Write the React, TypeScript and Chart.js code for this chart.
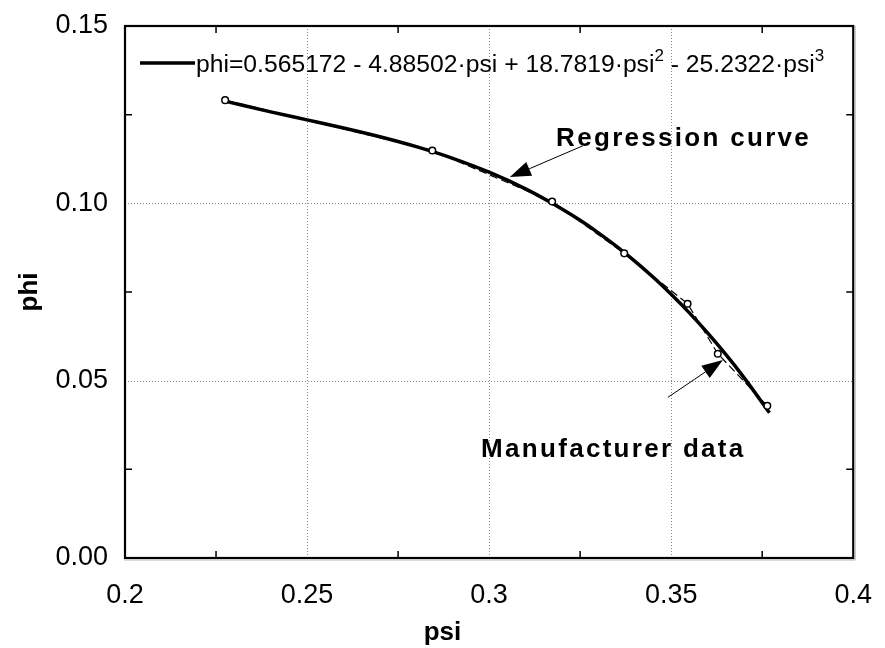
import React, { useEffect, useRef } from "react";
import { Chart, registerables } from "chart.js";
Chart.register(...registerables);

// Manufacturer data
const mfrPsi = [0.2275, 0.2844, 0.3173, 0.3371, 0.3545, 0.3628, 0.3764];
const mfrPhi = [0.1291, 0.1149, 0.1005, 0.0859, 0.0717, 0.0576, 0.0429];

// Regression curve samples
const regPsi = [0.228, 0.24, 0.25, 0.26, 0.27, 0.28, 0.29, 0.3, 0.31, 0.32, 0.325, 0.33, 0.335, 0.34, 0.345, 0.35, 0.355, 0.36, 0.365, 0.37, 0.377];
const regPhi = [0.12869, 0.12579, 0.12353, 0.12124, 0.11877, 0.11597, 0.11269, 0.10877, 0.10406, 0.09842, 0.09521, 0.09169, 0.08788, 0.08373, 0.07923, 0.07437, 0.06912, 0.06347, 0.05739, 0.05087, 0.04096];

// Axis ticks
const xTicks = [0.2, 0.25, 0.3, 0.35, 0.4];
const yTicks = [0, 0.05, 0.1, 0.15];
const xMinor = [0.225, 0.275, 0.325, 0.375];
const yMinor = [0.025, 0.075, 0.125];

// Texts
const legendParts = ["phi=0.565172 - 4.88502·psi + 18.7819·psi", "2", " - 25.2322·psi", "3"];
const xTitle = "psi";
const yTitle = "phi";
const regLabel = "Regression curve";
const mfrLabel = "Manufacturer data";

// Annotation anchors in data coordinates
const regArrowFrom = [0.3257, 0.1162];
const regArrowTo = [0.3057, 0.1074];
const regTextAt = [0.3184, 0.1162];
const mfrArrowFrom = [0.3491, 0.0453];
const mfrArrowTo = [0.3642, 0.0558];
const mfrTextAt = [0.2978, 0.0285];

const FONT = '"Liberation Sans", Arial, Helvetica, sans-serif';

function arrow(ctx: CanvasRenderingContext2D, x1: number, y1: number, x2: number, y2: number) {
  const ang = Math.atan2(y2 - y1, x2 - x1);
  const len = 21;
  const hw = 7.5;
  const bx = x2 - len * Math.cos(ang);
  const by = y2 - len * Math.sin(ang);
  ctx.save();
  ctx.strokeStyle = "#000";
  ctx.fillStyle = "#000";
  ctx.lineWidth = 1;
  ctx.beginPath();
  ctx.moveTo(x1, y1);
  ctx.lineTo(bx, by);
  ctx.stroke();
  ctx.beginPath();
  ctx.moveTo(x2, y2);
  ctx.lineTo(bx + hw * Math.sin(ang), by - hw * Math.cos(ang));
  ctx.lineTo(bx - hw * Math.sin(ang), by + hw * Math.cos(ang));
  ctx.closePath();
  ctx.fill();
  ctx.restore();
}

const decor = {
  id: "decor",
  beforeDatasetsDraw(chart: any) {
    const { ctx, chartArea: a, scales } = chart;
    const xs = scales.x, ys = scales.y;
    ctx.save();
    ctx.strokeStyle = "#8a8a8a";
    ctx.lineWidth = 1;
    ctx.setLineDash([1, 2]);
    xTicks.slice(1, -1).forEach((v) => {
      const px = Math.round(xs.getPixelForValue(v)) + 0.5;
      ctx.beginPath();
      ctx.moveTo(px, a.top);
      ctx.lineTo(px, a.bottom);
      ctx.stroke();
    });
    yTicks.slice(1, -1).forEach((v) => {
      const py = Math.round(ys.getPixelForValue(v)) + 0.5;
      ctx.beginPath();
      ctx.moveTo(a.left, py);
      ctx.lineTo(a.right, py);
      ctx.stroke();
    });
    ctx.restore();
  },
  afterDatasetsDraw(chart: any) {
    const { ctx, chartArea: a, scales, width } = chart;
    const xs = scales.x, ys = scales.y;
    ctx.save();
    // minor ticks
    ctx.strokeStyle = "#000";
    ctx.lineWidth = 1.5;
    const tl = 7;
    xMinor.forEach((v) => {
      const px = xs.getPixelForValue(v);
      ctx.beginPath();
      ctx.moveTo(px, a.bottom);
      ctx.lineTo(px, a.bottom - tl);
      ctx.moveTo(px, a.top);
      ctx.lineTo(px, a.top + tl);
      ctx.stroke();
    });
    yMinor.forEach((v) => {
      const py = ys.getPixelForValue(v);
      ctx.beginPath();
      ctx.moveTo(a.left, py);
      ctx.lineTo(a.left + tl, py);
      ctx.moveTo(a.right, py);
      ctx.lineTo(a.right - tl, py);
      ctx.stroke();
    });
    // border
    ctx.lineWidth = 2.2;
    ctx.strokeRect(a.left, a.top, a.right - a.left, a.bottom - a.top);
    // light shadow under bottom and right edges
    ctx.strokeStyle = "#b5b5b5";
    ctx.lineWidth = 1;
    ctx.beginPath();
    ctx.moveTo(a.left - 1, a.bottom + 2);
    ctx.lineTo(a.right + 2, a.bottom + 2);
    ctx.lineTo(a.right + 2, a.top);
    ctx.stroke();
    ctx.strokeStyle = "#000";

    // legend
    const lx = a.left + 15, ly = a.top + 37;
    ctx.lineWidth = 3.5;
    ctx.beginPath();
    ctx.moveTo(lx, ly);
    ctx.lineTo(lx + 55, ly);
    ctx.stroke();
    ctx.fillStyle = "#000";
    ctx.textBaseline = "alphabetic";
    ctx.textAlign = "left";
    let tx = lx + 56;
    const base = ly + 9;
    legendParts.forEach((s, i) => {
      const sup = i % 2 === 1;
      ctx.font = sup ? `17px ${FONT}` : `24.7px ${FONT}`;
      ctx.fillText(s, tx, sup ? base - 11 : base);
      tx += ctx.measureText(s).width;
    });

    // annotations
    const P = (p: number[]) => [xs.getPixelForValue(p[0]), ys.getPixelForValue(p[1])];
    ctx.font = `bold 26px ${FONT}`;
    (ctx as any).letterSpacing = "2.3px";
    const rt = P(regTextAt);
    ctx.fillText(regLabel, rt[0], rt[1]);
    const mt = P(mfrTextAt);
    ctx.fillText(mfrLabel, mt[0], mt[1]);
    (ctx as any).letterSpacing = "0px";
    const r1 = P(regArrowFrom), r2 = P(regArrowTo);
    arrow(ctx, r1[0], r1[1], r2[0], r2[1]);
    const m1 = P(mfrArrowFrom), m2 = P(mfrArrowTo);
    arrow(ctx, m1[0], m1[1], m2[0], m2[1]);

    // axis titles
    ctx.font = `bold 26px ${FONT}`;
    ctx.textAlign = "center";
    ctx.textBaseline = "middle";
    ctx.fillText(xTitle, width / 2, 633);
    ctx.save();
    ctx.translate(30, (a.top + a.bottom) / 2);
    ctx.rotate(-Math.PI / 2);
    ctx.fillText(yTitle, 0, 0);
    ctx.restore();
    ctx.restore();
  },
};

export default function App() {
  const ref = useRef<HTMLCanvasElement | null>(null);
  useEffect(() => {
    if (!ref.current) return;
    const chart = new Chart(ref.current, {
      type: "scatter",
      data: {
        datasets: [
          {
            label: "Manufacturer data",
            data: mfrPsi.map((x, i) => ({ x, y: mfrPhi[i] })),
            showLine: true,
            borderColor: "#000",
            borderWidth: 1.2,
            borderDash: [8, 4],
            pointRadius: 3.3,
            pointBackgroundColor: "#fff",
            pointBorderColor: "#000",
            pointBorderWidth: 1.5,
            tension: 0,
          },
          {
            label: "Regression",
            data: regPsi.map((x, i) => ({ x, y: regPhi[i] })),
            showLine: true,
            borderColor: "#000",
            borderWidth: 3.5,
            pointRadius: 0,
            cubicInterpolationMode: "monotone",
          },
        ],
      },
      options: {
        responsive: false,
        animation: false,
        devicePixelRatio: 1,
        layout: { padding: { left: 0, top: 26, right: 20, bottom: 0 } },
        plugins: { legend: { display: false }, tooltip: { enabled: false } },
        scales: {
          x: {
            type: "linear",
            min: 0.2,
            max: 0.4,
            grid: { display: false },
            border: { display: false },
            afterBuildTicks: (s: any) => {
              s.ticks = xTicks.map((v) => ({ value: v }));
            },
            afterFit: (s: any) => {
              s.height = 90;
            },
            ticks: {
              autoSkip: false,
              maxRotation: 0,
              padding: 13,
              color: "#000",
              font: { family: FONT, size: 27 },
              callback: (v: any) => String(Number(v)),
            },
          },
          y: {
            type: "linear",
            min: 0,
            max: 0.15,
            grid: { display: false },
            border: { display: false },
            afterBuildTicks: (s: any) => {
              s.ticks = yTicks.map((v) => ({ value: v }));
            },
            afterFit: (s: any) => {
              s.width = 125;
            },
            ticks: {
              autoSkip: false,
              padding: 9,
              color: "#000",
              font: { family: FONT, size: 27 },
              callback: (v: any) => Number(v).toFixed(2),
            },
          },
        },
      },
      plugins: [decor],
    } as any);
    return () => chart.destroy();
  }, []);
  return (
    <div style={{ position: "absolute", left: 0, top: 0, width: 885, height: 648, background: "#fff" }}>
      <canvas ref={ref} width={885} height={648} style={{ width: 885, height: 648 }} />
    </div>
  );
}
